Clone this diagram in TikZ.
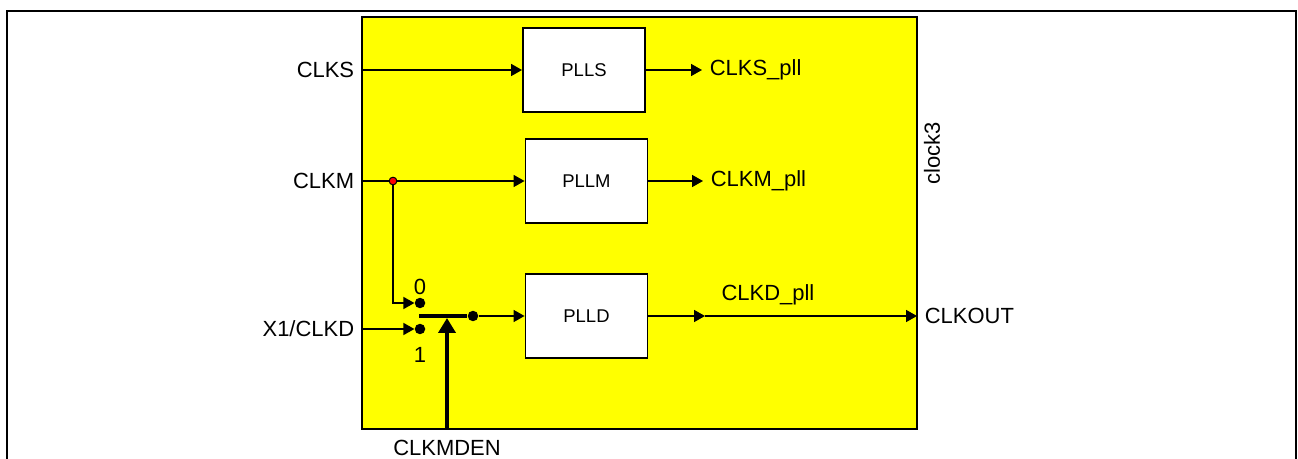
\documentclass[tikz,border=0pt]{standalone}
\usepackage{fontspec}
\setmainfont{Liberation Sans}
\usetikzlibrary{arrows.meta}
\definecolor{blkyellow}{RGB}{255,255,0}
\begin{document}
\begin{tikzpicture}[
  x=0.02cm, y=-0.02cm,
  lbl/.style={font=\fontsize{12.5}{15}\selectfont, inner xsep=0.15cm, inner ysep=1pt},
  pllbox/.style={draw, fill=white, line width=1.1pt, minimum width=2.44cm, minimum height=1.68cm, font=\fontsize{10.5}{12}\selectfont},
  sig/.style={-{Triangle[length=0.22cm, width=0.24cm]}, line width=0.9pt},
  ctl/.style={-{Triangle[length=0.3cm, width=0.34cm]}, line width=2.5pt},
  bar/.style={line width=2.5pt},
  pin/.style={circle, fill=black, inner sep=0pt, minimum size=0.21cm},
  tapdot/.style={circle, draw=black, fill=red, line width=0.5pt, inner sep=0pt, minimum size=0.15cm}
]
\useasboundingbox (0,0) rectangle (1298,459);
\draw[line width=1.1pt] (7,459) |- (1296,11) -- (1296,459);
\node[draw, fill=blkyellow, line width=1pt, minimum width=11.1cm, minimum height=8.24cm] (blk) at (639.5,223) {};
\node[lbl, rotate=90] (name) at (932,153) {clock3};

\node[pllbox] (plls) at (584,70) {PLLS};
\node[pllbox] (pllm) at (586.5,181) {PLLM};
\node[pllbox] (plld) at (586.5,316) {PLLD};

\node[lbl, anchor=east] (clks) at (362,70) {CLKS};
\node[lbl, anchor=east] (clkm) at (362,181) {CLKM};
\node[lbl, anchor=east] (clkd) at (362,329) {X1/CLKD};
\node[lbl, anchor=west] (slbl) at (702,70) {CLKS\_pll};
\node[lbl, anchor=west] (mlbl) at (703,181) {CLKM\_pll};
\node[lbl] (dlbl) at (768,295) {CLKD\_pll};
\node[lbl, anchor=west] (clkout) at (917,316) {CLKOUT};
\node[lbl] (den) at (447,448) {CLKMDEN};
\node[lbl] (zero) at (420,287) {0};
\node[lbl] (one) at (420,355) {1};

\node[tapdot] (tap) at (393,181) {};
\node[pin] (in0) at (420,303) {};
\node[pin] (in1) at (420,329) {};
\node[pin] (dout) at (473,316) {};
\coordinate (barL) at (419,316);
\coordinate (sel) at (447,318);
\coordinate (dmid) at (705,316);

\draw[sig] (blk.west |- plls) -- (plls.west);
\draw[sig] (blk.west |- pllm) -- (pllm.west);
\draw[sig] (tap) |- (in0.west);
\draw[sig] (blk.west |- in1) -- (in1.west);
\draw[bar] (barL) -- (dout);
\draw[ctl] (sel |- blk.south) -- (sel);
\draw[sig] (dout) -- (plld.west);
\draw[sig] (plls.east) -- (slbl.west);
\draw[sig] (pllm.east) -- (mlbl.west);
\draw[sig] (plld.east) -- (dmid);
\draw[sig] (dmid) -- (clkout.west);
\node[tapdot] at (tap) {};
\end{tikzpicture}
\end{document}
